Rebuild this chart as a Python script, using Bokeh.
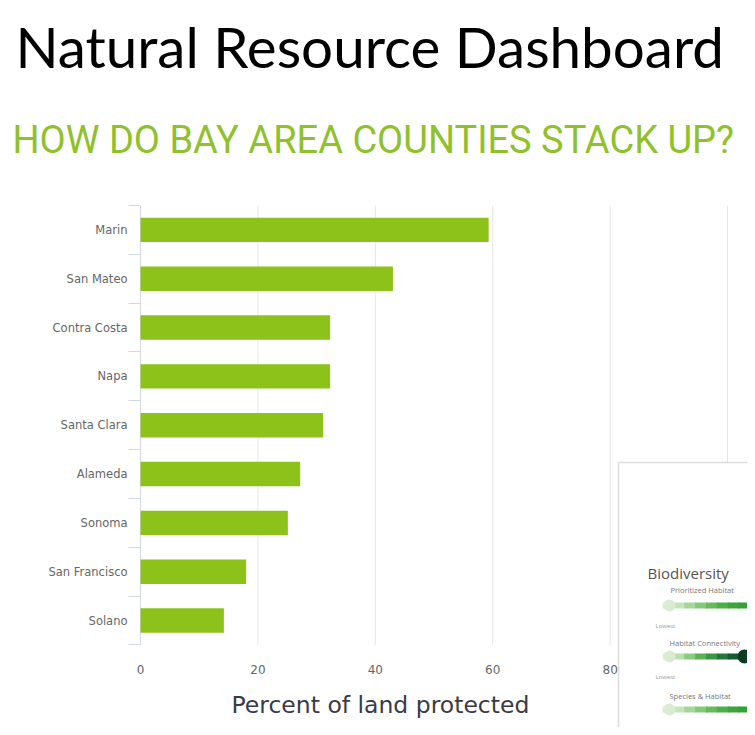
from bokeh.plotting import figure
from bokeh.models import BoxAnnotation, Label, FixedTicker, Range1d, Title
from bokeh.core.properties import value
from bokeh.embed import file_html
from bokeh.resources import INLINE

# ---- data ----
counties = ["Marin", "San Mateo", "Contra Costa", "Napa", "Santa Clara",
            "Alameda", "Sonoma", "San Francisco", "Solano"]
pct_protected = [59.3, 43, 32.3, 32.3, 31.1, 27.2, 25.1, 18, 14.2]
x_ticks = [0, 20, 40, 60, 80, 100]
x_tick_labels = [str(t) for t in x_ticks]

title_text = "Natural Resource Dashboard"
subtitle_text = "HOW DO BAY AREA COUNTIES STACK UP?"
x_label_text = "Percent of land protected"

BAR = "#8cc21a"
GREEN_TXT = "#8fc12c"
AXIS_GREY = "#d3d8e2"

n = len(counties)
positions = list(range(n))
last = n - 0.5            # lower edge of the category band

W, H = 747, 727
FRAME_TOP = 196
FRAME_LEFT = 128
cat_px = 447 / n
y_bottom = -0.5 + (H - FRAME_TOP) / cat_px
px_per_unit = 607 / 103.4
x_start = -(148 - 136) / px_per_unit

p = figure(width=W, height=H, output_backend="svg", toolbar_location=None,
           x_range=Range1d(x_start, 103.4), y_range=Range1d(y_bottom, -0.5),
           min_border_left=FRAME_LEFT, min_border_right=0, min_border_top=FRAME_TOP,
           min_border_bottom=0, x_axis_location=None)
p.outline_line_color = None
p.background_fill_color = "white"
p.border_fill_color = "white"
p.ygrid.grid_line_color = None
p.xgrid.grid_line_color = None

# vertical grid lines across the bar area, and the category axis line at 0
p.segment(x0=x_ticks[1:], x1=x_ticks[1:], y0=[-0.5] * (len(x_ticks) - 1),
          y1=[last] * (len(x_ticks) - 1), line_color="#e6e6e6", line_width=1)
p.segment(x0=[0], x1=[0], y0=[-0.5], y1=[last], line_color=AXIS_GREY, line_width=1)

p.hbar(y=positions, right=pct_protected, left=0, height=0.5,
       fill_color=BAR, line_color=None)

# category axis: labels at the centres, short ticks between categories
ya = p.yaxis[0]
ya.bounds = (-0.5, last)
ya.ticker = FixedTicker(ticks=positions,
                        minor_ticks=[i - 0.5 for i in range(n + 1)])
ya.major_label_overrides = {i: c for i, c in enumerate(counties)}
ya.major_tick_out = 0
ya.major_tick_in = 0
ya.minor_tick_out = 0
ya.minor_tick_in = 12
ya.minor_tick_line_color = AXIS_GREY
ya.axis_line_color = None
ya.major_label_standoff = 1
ya.major_label_text_font = "DejaVu Sans"
ya.major_label_text_font_size = "11.5px"
ya.major_label_text_color = "#666666"

# value tick labels under the bars
p.text(x=x_ticks, y=[last + 25 / cat_px] * len(x_ticks), text=x_tick_labels,
       text_align="center", text_baseline="middle", text_font=value("DejaVu Sans"),
       text_font_size="12px", text_color="#666666")


def clabel(x, y, text, font, size, color):
    p.add_layout(Label(x=x, y=y, x_units="canvas", y_units="canvas", text=text,
                       text_font=font, text_font_size=size, text_color=color,
                       text_baseline="alphabetic", level="overlay"))


def cbox(left, right, top, bottom, **kw):
    p.add_layout(BoxAnnotation(left=left, right=right, top=top, bottom=bottom,
                               left_units="canvas", right_units="canvas",
                               top_units="canvas", bottom_units="canvas",
                               level="overlay", **kw))


clabel(231, 704, x_label_text, "DejaVu Sans", "23.5px", "#3a3a48")

# titles (stacked above the frame; first added is nearest the frame)
p.add_layout(Title(text=" ", align="left", standoff=4, text_font_size="10px",
                   text_color="white"), "above")
p.add_layout(Title(text=subtitle_text, align="left", offset=-116, standoff=54,
                   text_font="Roboto", text_font_size="38px", text_color=GREEN_TXT,
                   text_font_style="normal"), "above")
p.add_layout(Title(text=title_text, align="left", offset=-113, standoff=18,
                   text_font="Lato", text_font_size="56.5px", text_color="black",
                   text_font_style="normal"), "above")

# ---- inset: screenshot of the dashboard panel ----
cbox(618, 800, 462, 800, fill_color="white", fill_alpha=1,
     line_color="#8a8a8a", line_width=1.5)
clabel(647, 572, "Biodiversity", "Open Sans", "15px", "#555555")
clabel(670, 589, "Prioritized Habitat", "Open Sans", "7.5px", "#777777")
clabel(655, 625, "Lowest", "Open Sans", "6px", "#999999")
clabel(669, 642, "Habitat Connectivity", "Open Sans", "7.5px", "#777777")
clabel(655, 676, "Lowest", "Open Sans", "6px", "#999999")
clabel(669, 695, "Species & Habitat", "Open Sans", "7.5px", "#777777")


def slider(y, colors, x0=662, x1=749):
    k = len(colors)
    step = (x1 - x0) / k
    for i, c in enumerate(colors):
        cbox(x0 + i * step, x0 + (i + 1) * step + 1, y - 3, y + 3,
             fill_color=c, fill_alpha=1, line_color=None)


def knob(x, y, r, color):
    cbox(x - r, x + r, y - r, y + r, fill_color=color, fill_alpha=1,
         line_color=None, border_radius=r)


light = ["#dcefd6", "#c4e4bb", "#a5d69a", "#86c87a", "#68ba5c", "#4fae46", "#3fa43a", "#35a035"]
dark = ["#dcefd6", "#b9dfae", "#8cca7e", "#5fb156", "#3d9640", "#24773a", "#155a30", "#0e432a"]
slider(605, light)
knob(669, 605, 6, "#d9ecd2")
slider(656, dark)
knob(669, 656, 6, "#d9ecd2")
knob(744, 656, 7, "#0d3b26")
slider(709, light)
knob(669, 709, 6, "#d9ecd2")

open("out.html", "w").write(file_html(p, INLINE))
